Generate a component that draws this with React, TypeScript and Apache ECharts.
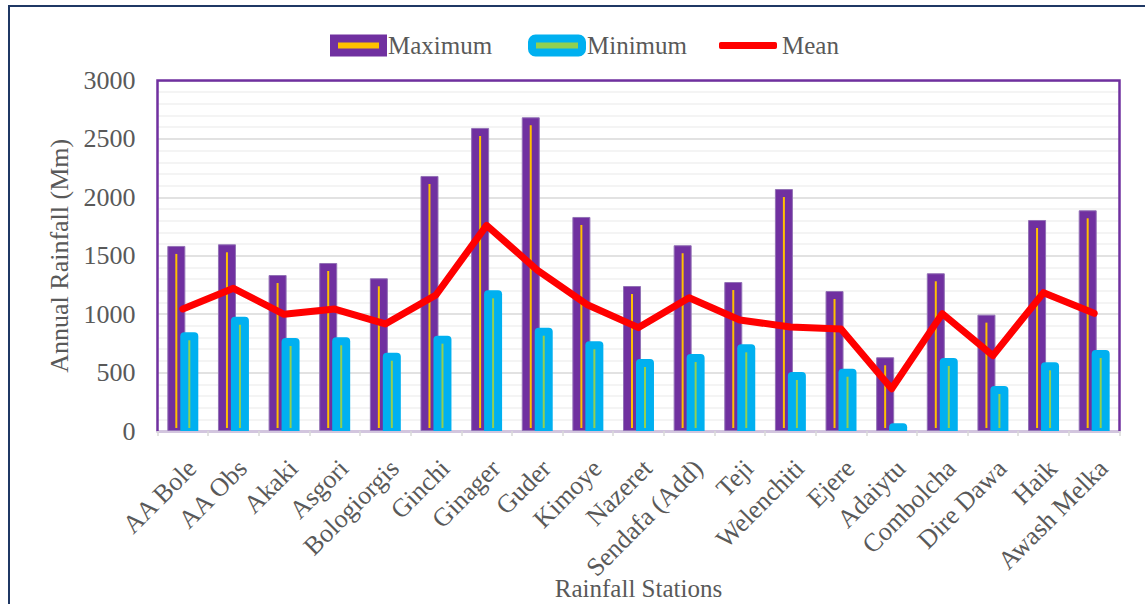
import React, { useEffect, useRef } from "react";
import * as echarts from "echarts";

const stations = [
  "AA Bole", "AA Obs", "Akaki", "Asgori", "Bologiorgis", "Ginchi", "Ginager", "Guder",
  "Kimoye", "Nazeret", "Sendafa (Add)", "Teji", "Welenchiti", "Ejere", "Adaiytu",
  "Combolcha", "Dire Dawa", "Haik", "Awash Melka",
];
const maximum = [1584, 1598, 1335, 1438, 1307, 2183, 2594, 2685, 1832, 1241, 1590, 1275, 2071, 1198, 631, 1350, 996, 1806, 1889];
const minimum = [845, 978, 796, 802, 670, 816, 1204, 884, 768, 616, 659, 742, 505, 533, 66, 625, 385, 588, 693];
const mean = [1045, 1221, 999, 1044, 916, 1164, 1760, 1378, 1078, 885, 1141, 950, 890, 873, 362, 1005, 645, 1184, 1007];
const yTicks = { min: 0, max: 3000, interval: 500 };

const FONT = "'Liberation Serif', 'Times New Roman', serif";
const TXT = "#595959";
const W = 1145;
const H = 604;
const GRID = { left: 157.5, right: 25.5, top: 80.5, bottom: 173 };

function innerLine(offset: number, color: string) {
  return (params: any, api: any) => {
    const idx = api.value(0);
    const v = api.value(1);
    const top = api.coord([idx, v]);
    const base = api.coord([idx, 0]);
    const y0 = top[1] + 8;
    const y1 = base[1] - 3;
    return {
      type: "rect",
      shape: { x: top[0] + offset - 1, y: y0, width: 2, height: Math.max(0, y1 - y0) },
      style: { fill: color },
    };
  };
}

export default function App() {
  const ref = useRef<HTMLDivElement>(null);
  useEffect(() => {
    if (!ref.current) return;
    const chart = echarts.init(ref.current, null, { renderer: "svg" });
    const legendText = { color: TXT, fontFamily: FONT, fontSize: 25, lineHeight: 26 };
    const gl = GRID.left, gt = GRID.top, gr = W - GRID.right, gb = H - GRID.bottom;
    chart.setOption({
      animation: false,
      backgroundColor: "#ffffff",
      legend: [
        {
          left: 330, top: 32.5, padding: 0, itemWidth: 49, itemHeight: 14, itemGap: 0,
          textStyle: legendText,
          data: [{ name: "Maximum", icon: "rect", itemStyle: { color: "#FFC000", borderColor: "#7030A0", borderWidth: 8 } }],
        },
        {
          left: 528, top: 32.5, padding: 0, itemWidth: 50, itemHeight: 14, itemGap: 0,
          textStyle: legendText,
          data: [{ name: "Minimum", icon: "roundRect", itemStyle: { color: "#92D050", borderColor: "#00B0F0", borderWidth: 8 } }],
        },
        {
          left: 719, top: 32.5, padding: 0, itemWidth: 58, itemHeight: 7, itemGap: 0,
          textStyle: legendText,
          data: [{ name: "Mean", icon: "roundRect", itemStyle: { color: "#FF0000" } }],
        },
      ],
      graphic: [
        {
          type: "rect",
          shape: { x: 9, y: 6, width: 1160, height: 640 },
          style: { fill: "none", stroke: "#1F3864", lineWidth: 2 },
          silent: true,
        },
        {
          type: "polyline",
          shape: { points: [[gl, gb], [gl, gt], [gr, gt], [gr, gb]] },
          style: { fill: "none", stroke: "#7030A0", lineWidth: 2.5 },
          z: 4,
          silent: true,
        },
      ],
      grid: {
        left: GRID.left, right: GRID.right, top: GRID.top, bottom: GRID.bottom,
        outerBoundsMode: "none",
        containLabel: false,
      },
      xAxis: {
        type: "category",
        data: stations,
        name: "Rainfall Stations",
        nameLocation: "middle",
        nameGap: 145,
        nameMoveOverlap: false,
        nameTextStyle: { color: TXT, fontFamily: FONT, fontSize: 25 },
        axisLine: { lineStyle: { color: "#D2C5DE", width: 3 } },
        axisTick: { show: true, length: 5, lineStyle: { color: "#D9D9D9", width: 1.5 } },
        axisLabel: {
          rotate: 45, interval: 0, margin: 24, verticalAlign: "top",
          color: TXT, fontFamily: FONT, fontSize: 26,
        },
      },
      yAxis: {
        type: "value",
        min: yTicks.min, max: yTicks.max, interval: yTicks.interval,
        name: "Annual Rainfall (Mm)",
        nameLocation: "middle",
        nameGap: 85,
        nameMoveOverlap: false,
        nameTextStyle: { color: TXT, fontFamily: FONT, fontSize: 26 },
        axisLine: { show: false },
        axisTick: { show: false },
        axisLabel: { color: TXT, fontFamily: FONT, fontSize: 26, margin: 22, formatter: (v: number) => String(v) },
        splitLine: { lineStyle: { color: "#D9D9D9", width: 1.5 } },
        minorTick: { show: false, splitNumber: 5 },
        minorSplitLine: { show: true, lineStyle: { color: "#F0F0F0", width: 1.5 } },
      },
      series: [
        {
          name: "Maximum",
          type: "bar",
          data: maximum,
          barWidth: 18,
          barGap: "-28%",
          itemStyle: { color: "#7030A0", borderColor: "#9271B5", borderWidth: 1 },
          z: 2,
        },
        {
          name: "Minimum",
          type: "bar",
          data: minimum,
          barWidth: 18,
          barGap: "-28%",
          itemStyle: { color: "#00B0F0", borderRadius: [4, 4, 0, 0] },
          z: 2,
        },
        {
          name: "maxInner",
          type: "custom",
          data: maximum.map((v, i) => [i, v]),
          encode: { x: 0, y: 1 },
          renderItem: innerLine(-6.5, "#FFC000"),
          z: 3,
          silent: true,
        },
        {
          name: "minInner",
          type: "custom",
          data: minimum.map((v, i) => [i, v]),
          encode: { x: 0, y: 1 },
          renderItem: innerLine(6.5, "#92D050"),
          z: 3,
          silent: true,
        },
        {
          name: "Mean",
          type: "line",
          data: mean,
          symbol: "none",
          itemStyle: { color: "#FF0000" },
          lineStyle: { color: "#FF0000", width: 7, join: "round", cap: "round" },
          z: 5,
        },
      ],
    });
    return () => chart.dispose();
  }, []);
  return (
    <div
      ref={ref}
      style={{ position: "fixed", left: 0, top: 0, width: W, height: H, background: "#fff" }}
    />
  );
}
